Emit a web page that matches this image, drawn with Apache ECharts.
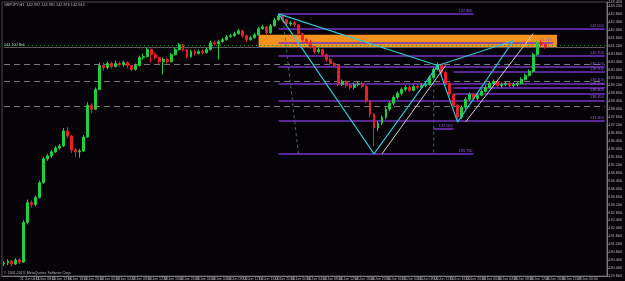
<!DOCTYPE html>
<html><head><meta charset="utf-8">
<script src="https://cdn.jsdelivr.net/npm/echarts@6/dist/echarts.min.js"></script>
<style>html,body{margin:0;padding:0;background:#060308;}#c{width:625px;height:281px;}</style>
</head><body><div id="c"></div><script>
const opens=[130.20,130.25,130.35,130.20,130.40,130.30,132.30,133.30,133.20,133.55,
134.30,135.50,135.65,135.85,136.05,136.15,136.90,136.65,135.95,135.85,
135.90,136.60,138.20,138.00,139.00,140.20,140.10,140.30,140.15,140.30,
140.25,140.35,140.20,140.00,140.20,140.60,140.65,141.00,140.75,140.60,
140.40,140.50,140.40,140.75,141.00,141.25,141.00,140.65,140.90,140.80,
140.90,140.85,141.00,141.35,141.30,141.40,141.50,141.65,141.70,141.80,
141.95,141.70,141.50,141.60,141.75,142.05,142.15,141.85,142.20,142.50,
142.70,142.50,142.30,142.35,142.25,141.80,141.50,141.40,141.15,140.90,
141.00,140.75,140.50,140.30,140.20,139.25,139.40,139.20,139.10,139.25,
139.30,139.15,138.40,137.75,137.05,137.30,137.60,138.00,138.30,138.60,
138.80,139.00,139.10,138.95,139.15,139.10,139.20,139.25,139.60,140.00,
140.25,139.85,139.30,138.75,138.20,137.60,138.10,138.50,138.75,138.55,
138.70,138.90,139.10,139.30,139.40,139.20,139.25,139.30,139.20,139.25,
139.30,139.50,139.70,139.90,140.75,141.35,141.25];
const closes=[130.25,130.35,130.20,130.40,130.30,132.30,133.30,133.20,133.55,134.30,
135.50,135.65,135.85,136.05,136.15,136.90,136.65,135.95,135.85,135.90,
136.60,138.20,138.00,139.00,140.20,140.10,140.30,140.15,140.30,140.25,
140.35,140.20,140.00,140.20,140.60,140.65,141.00,140.75,140.60,140.40,
140.50,140.40,140.75,141.00,141.25,141.00,140.65,140.90,140.80,140.90,
140.85,141.00,141.35,141.30,141.40,141.50,141.65,141.70,141.80,141.95,
141.70,141.50,141.60,141.75,142.05,142.15,141.85,142.20,142.50,142.70,
142.50,142.30,142.35,142.25,141.80,141.50,141.40,141.15,140.90,141.00,
140.75,140.50,140.30,140.20,139.25,139.40,139.20,139.10,139.25,139.30,
139.15,138.40,137.75,137.05,137.30,137.60,138.00,138.30,138.60,138.80,
139.00,139.10,138.95,139.15,139.10,139.20,139.25,139.60,140.00,140.25,
139.85,139.30,138.75,138.20,137.60,138.10,138.50,138.75,138.55,138.70,
138.90,139.10,139.30,139.40,139.20,139.25,139.30,139.20,139.25,139.30,
139.50,139.70,139.90,140.75,141.35,141.25,141.15];
const highs=[130.35,130.45,130.40,130.50,130.50,132.40,133.45,133.40,133.65,134.40,
135.60,135.75,135.95,136.15,136.25,137.05,137.10,136.70,136.05,136.00,
136.70,138.35,138.30,139.10,140.35,140.35,140.40,140.40,140.45,140.40,
140.45,140.40,140.25,140.30,140.70,140.80,141.10,141.05,140.85,140.65,
140.60,140.60,140.85,141.10,141.35,141.30,141.05,141.00,141.00,141.00,
141.00,141.10,141.45,141.45,141.50,141.60,141.75,141.80,141.90,142.05,
142.00,141.75,141.70,141.85,142.15,142.25,142.20,142.30,142.60,142.80,
142.75,142.55,142.45,142.45,142.30,141.85,141.60,141.50,141.20,141.10,
141.05,140.80,140.60,140.40,140.25,139.50,139.45,139.30,139.35,139.40,
139.40,139.20,138.45,137.80,137.40,137.70,138.10,138.40,138.70,138.90,
139.10,139.20,139.20,139.25,139.25,139.30,139.35,139.70,140.10,140.35,
140.30,139.90,139.35,138.80,138.25,138.20,138.60,138.85,138.80,138.80,
139.00,139.20,139.40,139.50,139.45,139.35,139.40,139.40,139.35,139.40,
139.60,139.80,140.00,140.85,141.45,141.45,141.30];
const lows=[130.10,130.15,130.10,130.15,130.20,130.25,132.20,133.05,133.10,133.50,
134.25,135.40,135.55,135.80,135.95,136.10,136.55,135.80,135.60,135.55,
135.85,136.55,137.80,137.95,138.95,139.95,140.00,140.05,140.10,140.15,
140.15,140.05,139.90,139.95,140.15,140.50,140.60,140.35,140.50,140.30,
139.75,140.30,140.35,140.70,140.95,140.90,140.55,140.60,140.70,140.75,
140.75,140.80,140.95,141.20,140.50,141.35,141.45,141.60,141.65,141.75,
141.60,141.40,141.45,141.55,141.70,142.00,141.75,141.80,142.15,142.45,
142.40,142.20,142.20,142.15,141.70,141.40,141.30,141.05,140.80,140.80,
140.65,140.40,140.20,140.10,139.15,139.15,139.10,139.00,139.00,139.15,
139.05,138.30,137.60,136.15,136.90,137.20,137.50,137.90,138.20,138.50,
138.70,138.90,138.85,138.90,139.00,139.05,139.10,139.20,139.55,139.95,
139.75,139.20,138.65,138.10,137.35,137.50,138.00,138.40,138.45,138.45,
138.65,138.85,139.05,139.25,139.10,139.10,139.15,139.10,139.10,139.15,
139.25,139.45,139.65,139.85,140.70,141.15,141.05];

// x axis: hourly categories (empty space to the right of the last candle)
const catCount = 152;
const startTime = Date.UTC(2013, 5, 11, 0);
const months = ['Jan','Feb','Mar','Apr','May','Jun','Jul','Aug','Sep','Oct','Nov','Dec'];
const cats = [];
for (let i = 0; i < catCount; i++) {
  const d = new Date(startTime + i * 3600e3);
  cats.push(d.getUTCDate() + ' ' + months[d.getUTCMonth()] + ' ' + String(d.getUTCHours()).padStart(2,'0') + ':00');
}

// harmonic pattern points X, A, B, C, D (category index, price)
const patIdx = [69, 93, 109, 114, 128];
const patPrice = [142.80, 135.75, 140.20, 137.35, 141.45];
// projection (white) lines
const projA = [[95, 135.75], [111, 140.20]];
const projB = [[116, 137.35], [133, 141.80]];
// dashed connectors
const connA = [[70, 142.80], [74, 135.75]];
const connB = [[108, 140.20], [108, 135.75]];

// fibonacci-type purple levels
const fibLevels = [142.80, 142.05, 141.35, 140.70, 140.15, 139.90, 139.30, 139.10, 138.80, 138.45, 137.40, 137.00, 135.75];
const fibFrom   = [69, 69, 69, 69, 69, 113, 69, 113, 113, 69, 69, 108, 69];
const fibTo     = [118, 151, 138, 151, 151, 151, 151, 151, 151, 151, 151, 113, 118];
// gray dashed levels
const grayLevels = [140.25, 139.40, 138.15];
const priceLine = 141.10;
const dotLine = 141.20;
// orange zone
const zone = {from: 64, to: 139, top: 141.75, bottom: 141.10};

const candleData = opens.map((o, i) => [o, closes[i], lows[i], highs[i]]);

const chart = echarts.init(document.getElementById('c'), null, {renderer: 'canvas'});
const font = 'Liberation Sans';
chart.setOption({
  backgroundColor: '#060308',
  animation: false,
  textStyle: {fontFamily: font},
  grid: {left: 2, right: 10, top: 1, bottom: 5, show: true, borderColor: '#4a4a4a', borderWidth: 1},
  xAxis: {
    type: 'category', data: cats, boundaryGap: true,
    axisLine: {lineStyle: {color: '#7a7a7a'}},
    axisTick: {interval: 3, length: 2, lineStyle: {color: '#7a7a7a'}},
    axisLabel: {interval: 3, fontSize: 3.6, color: '#b8b8b8', margin: 1, align: 'left'},
    splitLine: {show: false}
  },
  yAxis: {
    type: 'value', position: 'right', min: 129.6, max: 143.4, interval: 0.4, scale: true,
    axisLine: {show: true, lineStyle: {color: '#7a7a7a'}},
    axisTick: {show: true, length: 2, lineStyle: {color: '#7a7a7a'}},
    axisLabel: {fontSize: 3.8, color: '#b8b8b8', margin: 1.5, formatter: v => v.toFixed(3)},
    splitLine: {show: false}
  },
  graphic: [
    {type: 'text', left: 4, top: 3, style: {text: 'GBPJPY,H1  142.937 142.981 142.876 142.943', fill: '#b8b8b8', font: '3.8px ' + font}},
    {type: 'text', left: 4, top: 43, style: {text: '141.100 Bid', fill: '#c8c8c8', font: '3.8px ' + font}},
    {type: 'text', left: 4, top: 271, style: {text: '© 2001-2013, MetaQuotes Software Corp.', fill: '#b8b8b8', font: '3.6px ' + font}}
  ],
  series: [
    {
      type: 'line', data: [], z: 1, silent: true,
      markArea: {silent: true, itemStyle: {color: '#f5921e', opacity: 1},
        data: [[{coord: [zone.from, zone.top]}, {coord: [zone.to, zone.bottom]}]]}
    },
    {
      type: 'line', data: [], z: 2, silent: true,
      markLine: {
        silent: true, symbol: ['none', 'none'], animation: false,
        data: [].concat(
          grayLevels.map(v => [{coord: [0, v], lineStyle: {color: '#777', type: [6, 4], width: 1}}, {coord: [151, v]}]),
          [[{coord: [0, priceLine], lineStyle: {color: '#5c5c5c', type: 'solid', width: 1}}, {coord: [151, priceLine]}]],
          [[{coord: [0, dotLine], lineStyle: {color: '#1e9a2a', type: [1, 3], width: 1}}, {coord: [151, dotLine]}]]
        ),
        label: {show: false}
      }
    },
    {
      type: 'line', data: [], z: 3, silent: true,
      markLine: {
        silent: true, symbol: ['none', 'none'], animation: false,
        lineStyle: {color: '#7433c4', width: 1.6, type: 'solid'},
        label: {show: true, position: 'insideEndTop', fontSize: 3.8, color: '#9a5ae0', distance: 1,
          formatter: p => p.value.toFixed(3)},
        data: fibLevels.map((v, i) => [{coord: [fibFrom[i], v], value: v}, {coord: [fibTo[i], v]}])
      }
    },
    {
      type: 'candlestick', data: candleData, z: 5, barWidth: 2.4,
      itemStyle: {color: '#1fcf3f', color0: '#ee1c24', borderColor: '#1fcf3f', borderColor0: '#ee1c24', borderWidth: 1}
    },
    {
      type: 'line', z: 6, symbol: 'none', silent: true,
      data: patIdx.map((x, i) => [x, patPrice[i]]),
      lineStyle: {color: '#2cc6d2', width: 1.2}
    },
    {
      type: 'line', z: 6, symbol: 'none', silent: true,
      data: [0, 2, 4].map(i => [patIdx[i], patPrice[i]]),
      lineStyle: {color: '#2cc6d2', width: 1.2}
    },
    {type: 'line', z: 6, symbol: 'none', silent: true, data: projA, lineStyle: {color: '#cfcfcf', width: 1}},
    {type: 'line', z: 6, symbol: 'none', silent: true, data: projB, lineStyle: {color: '#cfcfcf', width: 1}},
    {type: 'line', z: 4, symbol: 'none', silent: true, data: connA, lineStyle: {color: '#3f6f4a', width: 1, type: [3, 3]}},
    {type: 'line', z: 4, symbol: 'none', silent: true, data: connB, lineStyle: {color: '#3f6f4a', width: 1, type: [3, 3]}}
  ]
});
</script></body></html>
